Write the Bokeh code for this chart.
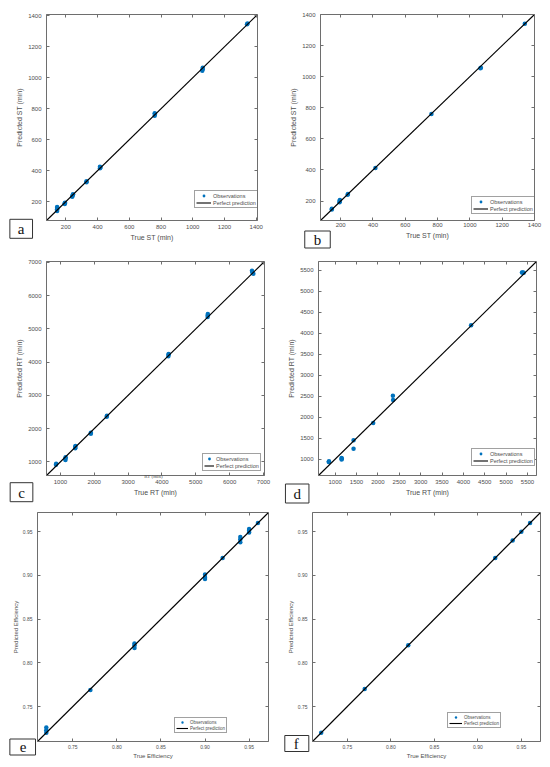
from bokeh.plotting import figure
from bokeh.layouts import column, row
from bokeh.models import (Range1d, Legend, LegendItem, Label, LinearAxis,
                          FixedTicker, PrintfTickFormatter, GridBox)
from bokeh.embed import file_html
from bokeh.resources import INLINE

# ---------------- data ----------------
# (a) ST, first model
st_true_a = [145, 145, 145, 145, 193, 193, 195, 240, 243, 245, 330, 330,
             415, 415, 418, 760, 762, 760, 1060, 1062, 1063, 1342, 1345]
st_pred_a = [140, 150, 160, 165, 185, 190, 192, 232, 240, 248, 325, 332,
             415, 425, 420, 755, 765, 770, 1045, 1055, 1065, 1345, 1350]
st_limits_a = [78, 1408]

# (b) ST, second model
st_true_b = [145, 145, 193, 193, 195, 243, 245, 415, 762, 1065, 1068, 1340]
st_pred_b = [145, 150, 192, 200, 207, 240, 245, 413, 760, 1055, 1058, 1340]
st_limits_b = [75, 1400]
st_ticks = [200, 400, 600, 800, 1000, 1200, 1400]

# (c) RT, first model
rt_true_c = [870, 875, 1150, 1150, 1155, 1440, 1440, 1445, 1900, 1900,
             2370, 2375, 4190, 4195, 4200, 5350, 5355, 5355, 6660, 6670, 6700]
rt_pred_c = [910, 940, 1060, 1100, 1140, 1410, 1450, 1480, 1850, 1880,
             2360, 2390, 4180, 4230, 4250, 5360, 5410, 5450, 6750, 6700, 6660]
rt_limits_c = [590, 7030]
rt_ticks_c = [1000, 2000, 3000, 4000, 5000, 6000, 7000]

# (d) RT, second model
rt_true_d = [850, 855, 1150, 1150, 1155, 1430, 1430, 1890, 2350, 2355,
             4180, 5370, 5390, 5410]
rt_pred_d = [930, 950, 990, 1030, 1010, 1450, 1250, 1860, 2510, 2410,
             4190, 5450, 5450, 5440]
rt_limits_d = [610, 5710]
rt_ticks_d = [1000, 1500, 2000, 2500, 3000, 3500, 4000, 4500, 5000, 5500]

# (e) Efficiency, first model
eff_true_e = [0.72, 0.72, 0.72, 0.77, 0.82, 0.82, 0.82, 0.90, 0.90, 0.90,
              0.92, 0.94, 0.94, 0.94, 0.95, 0.95, 0.95, 0.96]
eff_pred_e = [0.720, 0.723, 0.726, 0.769, 0.817, 0.820, 0.822, 0.896, 0.898,
              0.901, 0.920, 0.938, 0.941, 0.944, 0.949, 0.951, 0.953, 0.960]

# (f) Efficiency, second model
eff_true_f = [0.72, 0.77, 0.82, 0.92, 0.94, 0.95, 0.96]
eff_pred_f = [0.72, 0.77, 0.82, 0.92, 0.94, 0.95, 0.96]
eff_limits = [0.71, 0.972]
eff_ticks = [0.75, 0.80, 0.85, 0.90, 0.95]

panel_letters = ["a", "b", "c", "d", "e", "f"]

# ---------------- styling ----------------
BLUE = "#0072BD"
TEXT = "#4d4d4d"
LINE = "#6e6e6e"
SANS = "Liberation Sans"
SERIF = "Liberation Serif"


def panel(xs, ys, lim, ticks, xlabel, ylabel, fmt,
          w, h, bl, br, bt, bb, tick_fs, lab_fs, leg_fs, leg_loc, leg_gw, leg_gh,
          x_standoff=4, y_standoff=5, lab_standoff=2):
    p = figure(width=w, height=h, x_range=Range1d(*lim), y_range=Range1d(*lim),
               output_backend="svg", toolbar_location=None,
               min_border_left=bl, min_border_right=br,
               min_border_top=bt, min_border_bottom=bb,
               background_fill_color="white", border_fill_color="white")
    p.grid.visible = False
    p.outline_line_color = LINE
    p.outline_line_width = 1

    for ax, so in ((p.xaxis[0], x_standoff), (p.yaxis[0], y_standoff)):
        ax.ticker = FixedTicker(ticks=ticks)
        ax.formatter = PrintfTickFormatter(format=fmt)
        ax.major_tick_in = 3
        ax.major_tick_out = 0
        ax.minor_tick_line_color = None
        ax.axis_line_color = LINE
        ax.major_tick_line_color = LINE
        ax.major_label_text_font = SANS
        ax.major_label_text_font_size = tick_fs
        ax.major_label_text_color = TEXT
        ax.major_label_standoff = so
        ax.axis_label_text_font = SANS
        ax.axis_label_text_font_size = lab_fs
        ax.axis_label_text_font_style = "normal"
        ax.axis_label_text_color = TEXT
        ax.axis_label_standoff = lab_standoff
    p.xaxis[0].axis_label = xlabel
    p.yaxis[0].axis_label = ylabel

    # inward tick marks on the top and right edges (no labels)
    for place in ("above", "right"):
        ex = LinearAxis(ticker=FixedTicker(ticks=ticks))
        ex.major_label_text_font_size = "0px"
        ex.major_label_text_color = None
        ex.major_label_standoff = 0
        ex.major_tick_in = 3
        ex.major_tick_out = 0
        ex.minor_tick_line_color = None
        ex.axis_line_color = None
        ex.major_tick_line_color = LINE
        p.add_layout(ex, place)

    obs = p.scatter(xs, ys, size=4.5, color=BLUE, line_color=None)
    ln = p.line(lim, lim, line_color="black", line_width=1.1)

    leg = Legend(items=[LegendItem(label="Observations", renderers=[obs]),
                        LegendItem(label="Perfect prediction", renderers=[ln])],
                 location=leg_loc, orientation="vertical",
                 padding=1, spacing=0, margin=0,
                 glyph_width=leg_gw, glyph_height=leg_gh, label_height=leg_gh,
                 label_width=10, label_standoff=2,
                 label_text_font=SANS, label_text_font_size=leg_fs,
                 label_text_color=TEXT,
                 border_line_color="#444444", border_line_width=0.8,
                 background_fill_color="white", background_fill_alpha=1)
    p.add_layout(leg)
    return p


pa = panel(st_true_a, st_pred_a, st_limits_a, st_ticks,
           "True ST (min)", "Predicted ST (min)", "%d",
           275, 250, 46, 18, 11, 30, "6px", "7px", "5.5px", (148, 12), 15, 7)
pb = panel(st_true_b, st_pred_b, st_limits_b, st_ticks,
           "True ST (min)", "Predicted ST (min)", "%d",
           275, 250, 45, 16, 14, 22, "6px", "7px", "5.5px", (151, 6), 15, 7,
           x_standoff=2)
pc = panel(rt_true_c, rt_pred_c, rt_limits_c, rt_ticks_c,
           "True RT (min)", "Predicted RT (min)", "%d",
           275, 255, 46, 11, 11, 27, "6px", "7px", "5.5px", (156, 4), 10, 7)
pd = panel(rt_true_d, rt_pred_d, rt_limits_d, rt_ticks_d,
           "True RT (min)", "Predicted RT (min)", "%d",
           275, 255, 43, 14, 6, 30, "6px", "7px", "5.5px", (153, 9), 15, 7)
pe = panel(eff_true_e, eff_pred_e, eff_limits, eff_ticks,
           "True Efficiency", "Predicted Efficiency", "%.2f",
           275, 261, 37, 7, 6, 24, "5px", "6px", "4.5px", (137, 8), 12, 6,
           x_standoff=3, lab_standoff=1)
pf = panel(eff_true_f, eff_pred_f, eff_limits, eff_ticks,
           "True Efficiency", "Predicted Efficiency", "%.2f",
           275, 261, 37, 10, 7, 25, "5px", "6px", "4.5px", (135, 13), 13, 6,
           x_standoff=3, lab_standoff=1)

main = column(row(pa, pb), row(pc, pd), row(pe, pf))

# transparent overlay carrying the panel letters (page pixel coordinates)
ov = figure(width=550, height=766, x_range=Range1d(0, 550), y_range=Range1d(766, 0),
            output_backend="svg", toolbar_location=None,
            x_axis_type=None, y_axis_type=None,
            min_border=0, min_border_left=0, min_border_right=0,
            min_border_top=0, min_border_bottom=0)
ov.grid.visible = False
ov.outline_line_color = None
ov.background_fill_alpha = 0
ov.border_fill_alpha = 0

letter_pos = [(20.7, 228.3), (317, 239), (21, 491.7),
              (296.7, 493), (22.2, 746.5), (296.3, 743)]
letter_pad = [dict(left=8, right=8, top=2, bottom=1),
              dict(left=9, right=9, top=1, bottom=0),
              dict(left=8, right=8, top=2, bottom=1),
              dict(left=8, right=8, top=2, bottom=1),
              dict(left=10, right=9, top=3, bottom=3),
              dict(left=9, right=10, top=0, bottom=0)]
for letter, (lx, ly), pad in zip(panel_letters, letter_pos, letter_pad):
    ov.add_layout(Label(x=lx, y=ly, text=letter, text_font=SERIF,
                        text_font_size="15px", text_color="#111111",
                        text_align="center", text_baseline="middle",
                        border_line_color="#333333", border_line_width=1,
                        background_fill_color="white", padding=pad))
ov.add_layout(Label(x=153, y=476, text="RT (min)", text_font=SERIF,
                    text_font_size="5px", text_color=TEXT,
                    text_align="center", text_baseline="middle"))

layout = GridBox(children=[(main, 0, 0), (ov, 0, 0)], spacing=0)
open("out.html", "w").write(file_html(layout, INLINE))
